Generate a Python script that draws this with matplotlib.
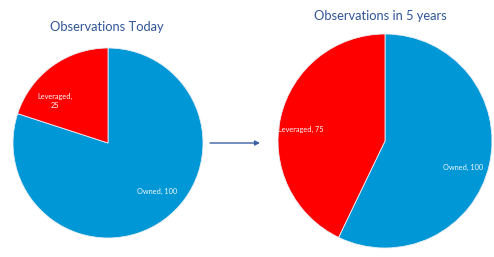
import matplotlib
matplotlib.use("Agg")
import matplotlib.pyplot as plt

categories = ["Owned", "Leveraged"]
today_values = [100, 25]
future_values = [100, 75]
titles = ["Observations Today", "Observations in 5 years"]

BLUE = "#0097D6"
RED = "#FF0000"
TITLE_C = "#2F5597"
FONT = ["Lato", "DejaVu Sans"]

W, H = 494, 257
fig = plt.figure(figsize=(W / 100, H / 100), dpi=100)

def add_pie(cx, cy, r, values, title, label_pos, title_xy):
    ax = fig.add_axes([(cx - r) / W, (H - cy - r) / H, 2 * r / W, 2 * r / H])
    ax.pie(values, colors=[BLUE, RED], startangle=90, counterclock=False,
           wedgeprops=dict(edgecolor="#e8eef5", linewidth=0.6))
    ax.set_xlim(-1, 1)
    ax.set_ylim(-1, 1)
    ax.set_aspect("equal")
    ax.axis("off")
    for cat, v, (lx, ly, nl) in zip(categories, values, label_pos):
        sep = "\n" if nl else " "
        ax.text(lx, ly, f"{cat},{sep}{v}", color="#f4f8fc", fontsize=5.3,
                ha="center", va="center", family=FONT, linespacing=1.3)
    fig.text(title_xy[0] / W, 1 - title_xy[1] / H, title, color=TITLE_C,
             fontsize=9.3, ha="center", va="center", family=FONT)
    return ax

add_pie(108, 143, 95, today_values, titles[0],
        [(0.52, -0.51, False), (-0.56, 0.44, True)], (107, 27))
add_pie(385, 141, 107, future_values, titles[1],
        [(0.73, -0.25, False), (-0.79, 0.11, False)], (380, 16))

fig.add_artist(matplotlib.patches.FancyArrowPatch(
    (210 / W, 1 - 143 / H), (260 / W, 1 - 143 / H), transform=fig.transFigure,
    arrowstyle="-|>", mutation_scale=7, color="#3B5FA3", linewidth=1.0,
    shrinkA=0, shrinkB=0))

fig.savefig("out.png", dpi=100, facecolor="white")
